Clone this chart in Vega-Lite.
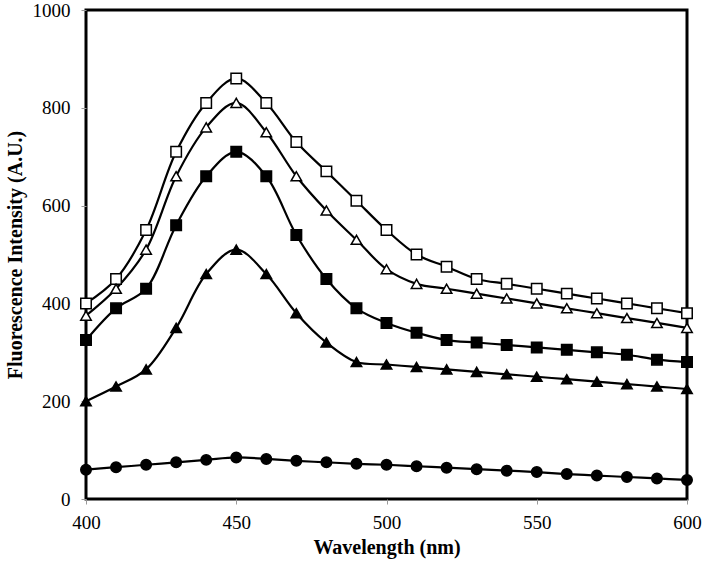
{
  "$schema": "https://vega.github.io/schema/vega-lite/v6.json",
  "width": 601,
  "height": 489,
  "autosize": {"type": "none"},
  "padding": {"left": 86, "top": 10, "right": 15, "bottom": 67},
  "background": "white",
  "config": {
    "view": {"stroke": "black", "strokeWidth": 3},
    "font": "Liberation Serif",
    "axis": {
      "grid": false,
      "domain": false,
      "tickColor": "#999999",
      "tickSize": 5,
      "labelFont": "Liberation Serif",
      "labelFontSize": 19,
      "labelColor": "black",
      "labelFlush": false,
      "labelOverlap": false,
      "titleFont": "Liberation Serif",
      "titleFontSize": 20,
      "titleFontWeight": "bold",
      "titleColor": "black"
    }
  },
  "data": {
    "values": [
      {"s": "A", "w": 400, "v": 400}, {"s": "A", "w": 410, "v": 450}, {"s": "A", "w": 420, "v": 550}, {"s": "A", "w": 430, "v": 710}, {"s": "A", "w": 440, "v": 810}, {"s": "A", "w": 450, "v": 860}, {"s": "A", "w": 460, "v": 810}, {"s": "A", "w": 470, "v": 730}, {"s": "A", "w": 480, "v": 670}, {"s": "A", "w": 490, "v": 610}, {"s": "A", "w": 500, "v": 550}, {"s": "A", "w": 510, "v": 500}, {"s": "A", "w": 520, "v": 475}, {"s": "A", "w": 530, "v": 450}, {"s": "A", "w": 540, "v": 440}, {"s": "A", "w": 550, "v": 430}, {"s": "A", "w": 560, "v": 420}, {"s": "A", "w": 570, "v": 410}, {"s": "A", "w": 580, "v": 400}, {"s": "A", "w": 590, "v": 390}, {"s": "A", "w": 600, "v": 380},
      {"s": "B", "w": 400, "v": 375}, {"s": "B", "w": 410, "v": 430}, {"s": "B", "w": 420, "v": 510}, {"s": "B", "w": 430, "v": 660}, {"s": "B", "w": 440, "v": 760}, {"s": "B", "w": 450, "v": 810}, {"s": "B", "w": 460, "v": 750}, {"s": "B", "w": 470, "v": 660}, {"s": "B", "w": 480, "v": 590}, {"s": "B", "w": 490, "v": 530}, {"s": "B", "w": 500, "v": 470}, {"s": "B", "w": 510, "v": 440}, {"s": "B", "w": 520, "v": 430}, {"s": "B", "w": 530, "v": 420}, {"s": "B", "w": 540, "v": 410}, {"s": "B", "w": 550, "v": 400}, {"s": "B", "w": 560, "v": 390}, {"s": "B", "w": 570, "v": 380}, {"s": "B", "w": 580, "v": 370}, {"s": "B", "w": 590, "v": 360}, {"s": "B", "w": 600, "v": 350},
      {"s": "C", "w": 400, "v": 325}, {"s": "C", "w": 410, "v": 390}, {"s": "C", "w": 420, "v": 430}, {"s": "C", "w": 430, "v": 560}, {"s": "C", "w": 440, "v": 660}, {"s": "C", "w": 450, "v": 710}, {"s": "C", "w": 460, "v": 660}, {"s": "C", "w": 470, "v": 540}, {"s": "C", "w": 480, "v": 450}, {"s": "C", "w": 490, "v": 390}, {"s": "C", "w": 500, "v": 360}, {"s": "C", "w": 510, "v": 340}, {"s": "C", "w": 520, "v": 325}, {"s": "C", "w": 530, "v": 320}, {"s": "C", "w": 540, "v": 315}, {"s": "C", "w": 550, "v": 310}, {"s": "C", "w": 560, "v": 305}, {"s": "C", "w": 570, "v": 300}, {"s": "C", "w": 580, "v": 295}, {"s": "C", "w": 590, "v": 285}, {"s": "C", "w": 600, "v": 280},
      {"s": "D", "w": 400, "v": 200}, {"s": "D", "w": 410, "v": 230}, {"s": "D", "w": 420, "v": 265}, {"s": "D", "w": 430, "v": 350}, {"s": "D", "w": 440, "v": 460}, {"s": "D", "w": 450, "v": 510}, {"s": "D", "w": 460, "v": 460}, {"s": "D", "w": 470, "v": 380}, {"s": "D", "w": 480, "v": 320}, {"s": "D", "w": 490, "v": 280}, {"s": "D", "w": 500, "v": 275}, {"s": "D", "w": 510, "v": 270}, {"s": "D", "w": 520, "v": 265}, {"s": "D", "w": 530, "v": 260}, {"s": "D", "w": 540, "v": 255}, {"s": "D", "w": 550, "v": 250}, {"s": "D", "w": 560, "v": 245}, {"s": "D", "w": 570, "v": 240}, {"s": "D", "w": 580, "v": 235}, {"s": "D", "w": 590, "v": 230}, {"s": "D", "w": 600, "v": 225},
      {"s": "E", "w": 400, "v": 60}, {"s": "E", "w": 410, "v": 65}, {"s": "E", "w": 420, "v": 70}, {"s": "E", "w": 430, "v": 75}, {"s": "E", "w": 440, "v": 80}, {"s": "E", "w": 450, "v": 85}, {"s": "E", "w": 460, "v": 82}, {"s": "E", "w": 470, "v": 78}, {"s": "E", "w": 480, "v": 75}, {"s": "E", "w": 490, "v": 72}, {"s": "E", "w": 500, "v": 70}, {"s": "E", "w": 510, "v": 67}, {"s": "E", "w": 520, "v": 64}, {"s": "E", "w": 530, "v": 61}, {"s": "E", "w": 540, "v": 58}, {"s": "E", "w": 550, "v": 55}, {"s": "E", "w": 560, "v": 51}, {"s": "E", "w": 570, "v": 48}, {"s": "E", "w": 580, "v": 45}, {"s": "E", "w": 590, "v": 42}, {"s": "E", "w": 600, "v": 39}
    ]
  },
  "encoding": {
    "x": {"field": "w", "type": "quantitative", "scale": {"domain": [400, 600], "nice": false, "zero": false}, "axis": {"values": [400, 450, 500, 550, 600], "format": "d", "title": "Wavelength (nm)", "labelPadding": 9, "titlePadding": 5}},
    "y": {"field": "v", "type": "quantitative", "scale": {"domain": [0, 1000], "nice": false}, "axis": {"values": [0, 200, 400, 600, 800, 1000], "format": "d", "title": "Fluorescence Intensity (A.U.)", "labelPadding": 11, "titlePadding": 7}}
  },
  "layer": [
    {
      "mark": {"type": "line", "interpolate": "catmull-rom", "color": "black", "strokeWidth": 2.2},
      "encoding": {"detail": {"field": "s"}}
    },
    {
      "mark": {"type": "point", "filled": true, "stroke": "black", "strokeWidth": 1.5, "opacity": 1},
      "encoding": {
        "shape": {"field": "s", "type": "nominal", "scale": {"domain": ["A", "B", "C", "D", "E"], "range": ["square", "triangle-up", "square", "triangle-up", "circle"]}, "legend": null},
        "fill": {"field": "s", "type": "nominal", "scale": {"domain": ["A", "B", "C", "D", "E"], "range": ["white", "white", "black", "black", "black"]}, "legend": null},
        "size": {"value": 110}
      }
    }
  ]
}
